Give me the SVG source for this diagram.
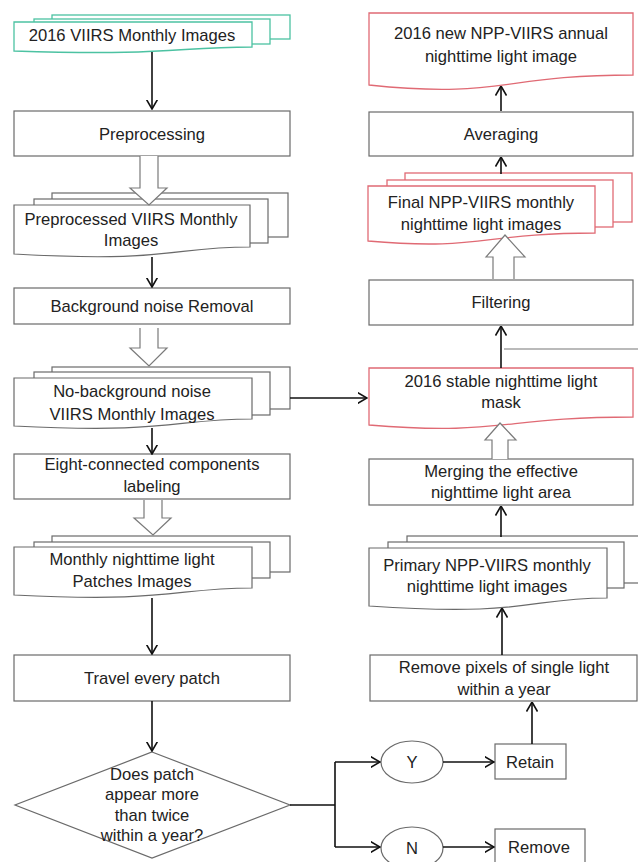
<svg xmlns="http://www.w3.org/2000/svg" width="638" height="862" viewBox="0 0 638 862">
<style>
.bx{fill:#fff;stroke:#6a6a6a;stroke-width:1.2}
.tl{fill:#fff;stroke:#4cc2a2;stroke-width:1.3}
.rd{fill:#fff;stroke:#e06a74;stroke-width:1.3}
.ba{fill:#fff;stroke:#7a7a7a;stroke-width:1.2}
.t{font-family:"Liberation Sans",Arial,sans-serif;font-size:16.6px;fill:#222;text-anchor:middle}
.c{fill:none;stroke:#111;stroke-width:1.6}
.g{fill:none;stroke:#777;stroke-width:1.1}
</style>
<defs>
<marker id="ah" viewBox="0 0 10 12" refX="9.5" refY="6" markerWidth="10" markerHeight="12" markerUnits="userSpaceOnUse" orient="auto">
<path d="M0,0.5 L9.5,6 L0,11.5" fill="none" stroke="#111" stroke-width="1.6"/>
</marker>
</defs>
<rect width="638" height="862" fill="#fff"/>

<g id="n-viirs">
<rect class="tl" x="52" y="15" width="238" height="24"/>
<rect class="tl" x="34" y="19" width="236" height="25"/>
<path class="tl" d="M14,22 H252 V47 C173,47 173,56 14,51 Z"/>
<text class="t" x="132" y="41">2016 VIIRS Monthly Images</text>
</g>

<g id="n-pre">
<rect class="bx" x="14" y="111" width="276" height="45"/>
<text class="t" x="152" y="140">Preprocessing</text>
</g>

<g id="n-preimg">
<rect class="bx" x="52" y="193" width="236" height="44"/>
<rect class="bx" x="34" y="199" width="234" height="44"/>
<path class="bx" d="M14,205 H250 V247 C171,247 171,263 14,254 Z"/>
<text class="t" x="131" y="225">Preprocessed VIIRS Monthly</text>
<text class="t" x="131" y="246">Images</text>
</g>

<g id="n-bg">
<rect class="bx" x="14" y="288" width="276" height="36"/>
<text class="t" x="152" y="312">Background noise Removal</text>
</g>

<g id="n-nobg">
<rect class="bx" x="52" y="367" width="238" height="42"/>
<rect class="bx" x="34" y="372" width="236" height="43"/>
<path class="bx" d="M14,378 H252 V419 C173,419 173,434 14,426 Z"/>
<text class="t" x="132" y="397">No-background noise</text>
<text class="t" x="132" y="420">VIIRS Monthly Images</text>
</g>

<g id="n-eight">
<rect class="bx" x="14" y="454" width="276" height="45"/>
<text class="t" x="152" y="470">Eight-connected components</text>
<text class="t" x="152" y="492">labeling</text>
</g>

<g id="n-monthly">
<rect class="bx" x="52" y="536" width="238" height="36"/>
<rect class="bx" x="34" y="542" width="236" height="36"/>
<path class="bx" d="M14,547 H252 V588 C173,588 173,603 14,595 Z"/>
<text class="t" x="132" y="565">Monthly nighttime light</text>
<text class="t" x="132" y="587">Patches Images</text>
</g>

<g id="n-travel">
<rect class="bx" x="14" y="655" width="276" height="46"/>
<text class="t" x="152" y="684">Travel every patch</text>
</g>

<g id="n-decision">
<path class="bx" d="M152,752 L290,805 L152,858 L15,805 Z"/>
<text class="t" x="152" y="780">Does patch</text>
<text class="t" x="152" y="800">appear more</text>
<text class="t" x="152" y="821">than twice</text>
<text class="t" x="152" y="841">within a year?</text>
</g>

<g id="n-y">
<ellipse class="bx" cx="412" cy="762" rx="31" ry="21"/>
<text class="t" x="412" y="768">Y</text>
</g>
<g id="n-retain">
<rect class="bx" x="495" y="744" width="71" height="35"/>
<text class="t" x="530" y="768">Retain</text>
</g>
<g id="n-n">
<ellipse class="bx" cx="412" cy="848" rx="31" ry="21"/>
<text class="t" x="412" y="854">N</text>
</g>
<g id="n-remove">
<rect class="bx" x="495" y="829" width="90" height="40"/>
<text class="t" x="539" y="853">Remove</text>
</g>

<g id="n-removepix">
<rect class="bx" x="370" y="655" width="267" height="46"/>
<text class="t" x="504" y="673">Remove pixels of single light</text>
<text class="t" x="504" y="695">within a year</text>
</g>

<g id="n-primary">
<rect class="bx" x="407" y="536" width="250" height="47"/>
<rect class="bx" x="388" y="542" width="236" height="46"/>
<path class="bx" d="M369,548 H607 V598 C528,598 528,617 369,606 Z"/>
<text class="t" x="487" y="571">Primary NPP-VIIRS monthly</text>
<text class="t" x="487" y="592">nighttime light images</text>
</g>

<g id="n-merge">
<rect class="bx" x="369" y="459" width="264" height="46"/>
<text class="t" x="501" y="477">Merging the effective</text>
<text class="t" x="501" y="498">nighttime light area</text>
</g>

<g id="n-mask">
<path class="rd" d="M369,368 H633 V417 C501,417 501,436 369,425 Z"/>
<text class="t" x="501" y="387">2016 stable nighttime light</text>
<text class="t" x="501" y="408">mask</text>
</g>

<g id="n-filter">
<rect class="bx" x="369" y="280" width="264" height="45"/>
<text class="t" x="501" y="308">Filtering</text>
</g>

<g id="n-final">
<rect class="rd" x="405" y="173" width="227" height="49"/>
<rect class="rd" x="387" y="180" width="226" height="47"/>
<path class="rd" d="M368,186 H595 V233 C481,233 481,251 368,241 Z"/>
<text class="t" x="481" y="208">Final NPP-VIIRS monthly</text>
<text class="t" x="481" y="230">nighttime light images</text>
</g>

<g id="n-avg">
<rect class="bx" x="369" y="112" width="264" height="44"/>
<text class="t" x="501" y="140">Averaging</text>
</g>

<g id="n-annual">
<path class="rd" d="M369,13 H633 V75 C501,75 501,99 369,85 Z"/>
<text class="t" x="501" y="39">2016 new NPP-VIIRS annual</text>
<text class="t" x="501" y="62">nighttime light image</text>
</g>

<g id="connectors">
<path class="c" d="M152,52 V109" marker-end="url(#ah)"/>
<path class="c" d="M152,257 V287" marker-end="url(#ah)"/>
<path class="c" d="M152,428 V454" marker-end="url(#ah)"/>
<path class="c" d="M152,598 V654" marker-end="url(#ah)"/>
<path class="c" d="M152,701 V751" marker-end="url(#ah)"/>
<path class="c" d="M290,398 H367" marker-end="url(#ah)"/>
<path class="c" d="M290,805 H335 M335,762 V847"/>
<path class="c" d="M335,762 H380" marker-end="url(#ah)"/>
<path class="c" d="M335,847 H380" marker-end="url(#ah)"/>
<path class="c" d="M443,762 H494" marker-end="url(#ah)"/>
<path class="c" d="M443,847 H494" marker-end="url(#ah)"/>
<path class="c" d="M532,744 V702" marker-end="url(#ah)"/>
<path class="c" d="M502,655 V608" marker-end="url(#ah)"/>
<path class="c" d="M501,537 V506" marker-end="url(#ah)"/>
<path class="c" d="M501,368 V326" marker-end="url(#ah)"/>
<path class="c" d="M501,174 V157" marker-end="url(#ah)"/>
<path class="c" d="M501,111 V86" marker-end="url(#ah)"/>
<path class="g" d="M504,349 H640"/>
<path class="ba" d="M140,156 V188 H130 L149,205 L167,188 H158 V156"/>
<path class="ba" d="M140,328 V348 H130 L149,366 L167,348 H158 V328"/>
<path class="ba" d="M144,500 V518 H134 L153,535 L171,518 H162 V500"/>
<path class="ba" d="M493,279 V257 H486 L505,235 L525,257 H514 V279"/>
<path class="ba" d="M492,459 V440 H485 L500,423 L516,440 H508 V459"/>
</g>
</svg>
